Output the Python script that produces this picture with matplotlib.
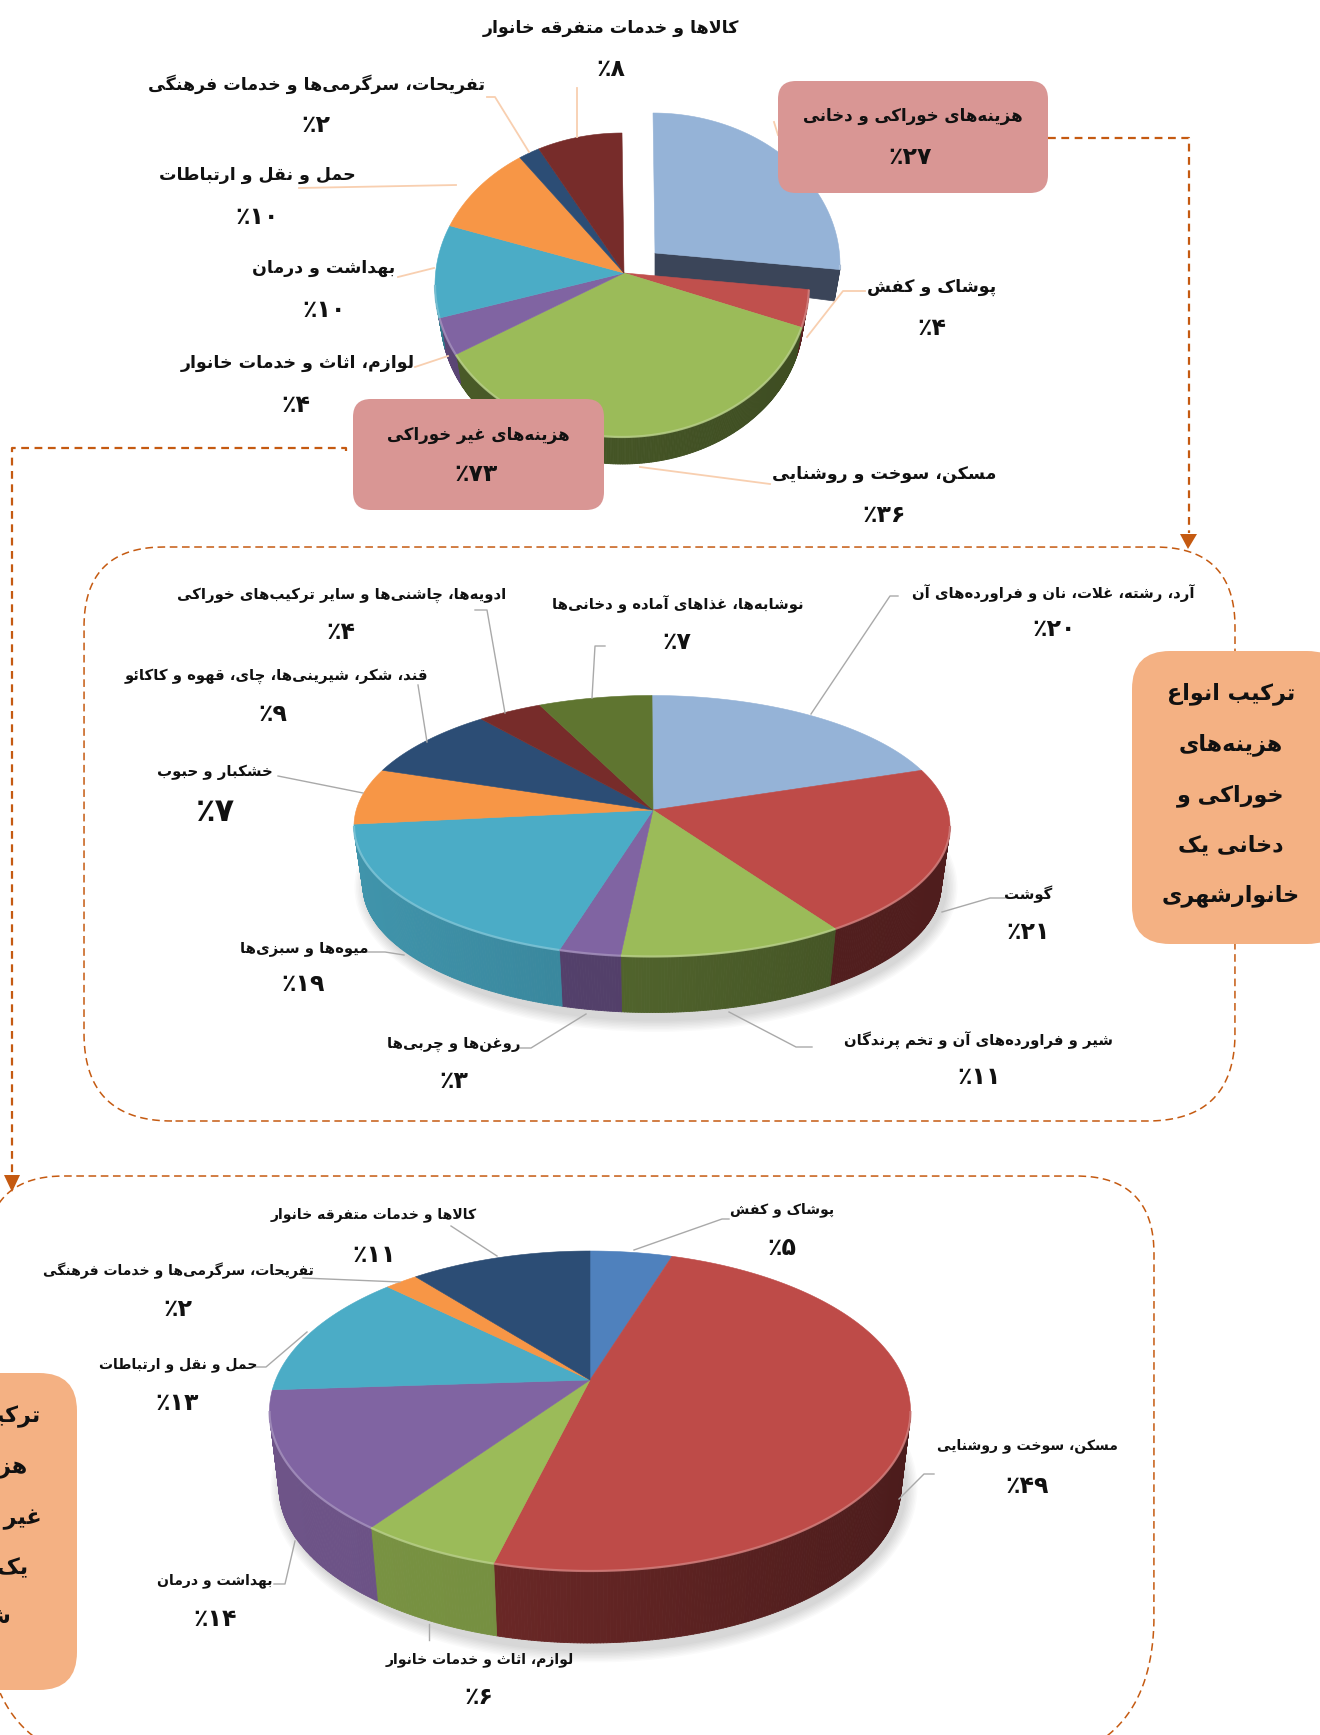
import numpy as np
import matplotlib
matplotlib.use("Agg")
import matplotlib.pyplot as plt
from matplotlib.patches import FancyBboxPatch, Polygon, Ellipse
from matplotlib.collections import PolyCollection

# ---------- data ----------
cats_all = ["هزینه‌های خوراکی و دخانی", "پوشاک و کفش", "مسکن، سوخت و روشنایی", "لوازم، اثاث و خدمات خانوار",
            "بهداشت و درمان", "حمل و نقل و ارتباطات", "تفریحات، سرگرمی‌ها و خدمات فرهنگی", "کالاها و خدمات متفرقه خانوار"]
vals_all = [27, 4, 36, 4, 10, 10, 2, 8]

cats_food = ["آرد، رشته، غلات، نان و فراورده‌های آن", "گوشت", "شیر و فراورده‌های آن و تخم پرندگان", "روغن‌ها و چربی‌ها",
             "میوه‌ها و سبزی‌ها", "خشکبار و حبوب", "قند، شکر، شیرینی‌ها، چای، قهوه و کاکائو",
             "ادویه‌ها، چاشنی‌ها و سایر ترکیب‌های خوراکی", "نوشابه‌ها، غذاهای آماده و دخانی‌ها"]
vals_food = [20, 21, 11, 3, 19, 7, 9, 4, 7]

cats_nonfood = ["پوشاک و کفش", "مسکن، سوخت و روشنایی", "لوازم، اثاث و خدمات خانوار", "بهداشت و درمان",
                "حمل و نقل و ارتباطات", "تفریحات، سرگرمی‌ها و خدمات فرهنگی", "کالاها و خدمات متفرقه خانوار"]
vals_nonfood = [5, 49, 6, 14, 13, 2, 11]

box_food_title = "هزینه‌های خوراکی و دخانی"
box_food_value = 27
box_nonfood_title = "هزینه‌های غیر خوراکی"
box_nonfood_value = 73
side_food_lines = ["ترکیب انواع", "هزینه‌های", "خوراکی و", "دخانی یک", "خانوارشهری"]
side_nonfood_lines = ["ترکیب انواع", "هزینه‌های", "غیر خوراکی", "یک خانوار", "شهری"]

# ---------- Persian shaping (matplotlib does not join or reorder Arabic script) ----------
def _f(i, f=None, a=None, m=None):
    return (chr(i), chr(f) if f else None, chr(a) if a else None, chr(m) if m else None)
def _four(b):
    return _f(b, b + 1, b + 2, b + 3)
def _two(b):
    return _f(b, b + 1)
FORMS = {'ء': _f(0xFE80), 'آ': _two(0xFE81), 'أ': _two(0xFE83), 'ؤ': _two(0xFE85), 'إ': _two(0xFE87),
         'ئ': _four(0xFE89), 'ا': _two(0xFE8D), 'ب': _four(0xFE8F), 'ة': _two(0xFE93), 'ت': _four(0xFE95),
         'ث': _four(0xFE99), 'ج': _four(0xFE9D), 'ح': _four(0xFEA1), 'خ': _four(0xFEA5), 'د': _two(0xFEA9),
         'ذ': _two(0xFEAB), 'ر': _two(0xFEAD), 'ز': _two(0xFEAF), 'س': _four(0xFEB1), 'ش': _four(0xFEB5),
         'ص': _four(0xFEB9), 'ض': _four(0xFEBD), 'ط': _four(0xFEC1), 'ظ': _four(0xFEC5), 'ع': _four(0xFEC9),
         'غ': _four(0xFECD), 'ف': _four(0xFED1), 'ق': _four(0xFED5), 'ک': _four(0xFB8E), 'ل': _four(0xFEDD),
         'م': _four(0xFEE1), 'ن': _four(0xFEE5), 'ه': _four(0xFEE9), 'و': _two(0xFEED), 'ی': _four(0xFBFC),
         'پ': _four(0xFB56), 'چ': _four(0xFB7A), 'ژ': _two(0xFB8A), 'گ': _four(0xFB92)}
def shape(s):
    out = []
    n = len(s)
    i = 0
    def joins_next(c):
        return c in FORMS and FORMS[c][2] is not None
    while i < n:
        c = s[i]
        if c == '\u200c':
            i += 1
            continue
        if c not in FORMS:
            out.append(c)
            i += 1
            continue
        prev_j = i > 0 and joins_next(s[i - 1])
        nxt = s[i + 1] if i + 1 < n else ''
        if c == 'ل' and nxt in ('ا', 'آ'):
            base = 0xFEFB if nxt == 'ا' else 0xFEF5
            out.append(chr(base + 1 if prev_j else base))
            i += 2
            continue
        next_j = nxt in FORMS
        iso, fin, ini, med = FORMS[c]
        if prev_j and next_j and med:
            g = med
        elif prev_j and fin:
            g = fin
        elif next_j and ini:
            g = ini
        else:
            g = iso
        out.append(g)
        i += 1
    return ''.join(reversed(out))

def pct(v):
    d = str(v).translate(str.maketrans('0123456789', '۰۱۲۳۴۵۶۷۸۹'))
    return '٪' + d

# ---------- figure ----------
fig = plt.figure(figsize=(13.2, 17.35), dpi=100, facecolor='white')
ax = fig.add_axes([0, 0, 1, 1])
ax.set_xlim(0, 1320)
ax.set_ylim(1735, 0)
ax.axis('off')
FONT = ['DejaVu Sans']
ORANGE_LINE = '#C55A11'
BASE_SHRINK = 0.97

def mix(a, b, t):
    a, b = np.array(matplotlib.colors.to_rgb(a)), np.array(matplotlib.colors.to_rgb(b))
    return tuple(a + (b - a) * t)

def arc(g, t0, t1, n=None, dx=0, dy=0):
    """Perspective projection of a circle's arc onto the top ellipse (apex sits above the ellipse centre)."""
    n = n or max(2, int(abs(t1 - t0)) + 2)
    t = np.radians(np.linspace(t0, t1, n))
    e = (g['cy'] - g['ay']) / g['ry']
    den = 1 + e * np.cos(t)
    y = (np.cos(t) + e) / den
    x = np.sin(t) * np.sqrt(1 - e * e) / den
    return np.c_[g['cx'] + dx + g['rx'] * x, g['cy'] + dy - g['ry'] * y]

def base_of(g, p, dx=0, dy=0):
    k = BASE_SHRINK
    cx, cy = g['cx'] + dx, g['cy'] + dy
    return np.c_[cx + (p[:, 0] - cx) * k, cy + g['d'] + g['ry'] * (1 - k) + (p[:, 1] - cy) * k]

def draw_wall(g, t0, t1, lit, dark, dx=0, dy=0, z=3):
    e = (g['cy'] - g['ay']) / g['ry']
    tw = np.degrees(np.arccos(-e))
    a, b = max(t0, tw), min(t1, 360 - tw)
    if b <= a:
        return
    pts = arc(g, a, b, n=int(b - a) * 2 + 2, dx=dx, dy=dy)
    low = base_of(g, pts, dx, dy)
    polys, cols = [], []
    for i in range(len(pts) - 1):
        polys.append([pts[i], pts[i + 1], low[i + 1], low[i]])
        tx = np.clip((g['cx'] + g['rx'] - pts[i, 0]) / (2 * g['rx']), 0, 1)
        cols.append(mix(dark, lit, tx))
    ax.add_collection(PolyCollection(polys, facecolors=cols, edgecolors=cols, linewidths=0.6, zorder=z))

def draw_pie(g, vals, tops, lits, darks, skip_first=False):
    total = sum(vals)
    edges = np.concatenate([[0], np.cumsum(vals)]) * 360.0 / total
    e = (g['cy'] - g['ay']) / g['ry']
    tw = np.degrees(np.arccos(-e))
    if g.get('shadow'):
        for k in range(8):
            ax.add_patch(Ellipse((g['cx'] + 4, g['cy'] + g['d'] + 5), 2 * g['rx'] * BASE_SHRINK + 4 + 3 * k, 2 * g['ry'] + 8 + 3 * k,
                                 fc='#000000', ec='none', alpha=0.018, zorder=1))
    ex = g.get('explode', (0, 0))
    for i, v in enumerate(vals):
        t0, t1 = edges[i], edges[i + 1]
        dx, dy = ex if (skip_first and i == 0) else (0, 0)
        z = 2 if (skip_first and i == 0) else 3
        if skip_first and i == 0:
            ap = np.array([g['ax'] + dx, g['ay'] + dy])
            end = arc(g, t1, t1, n=1, dx=dx, dy=dy)[0]
            lowend = base_of(g, end[None, :], dx, dy)[0]
            ax.add_patch(Polygon([ap, end, lowend, ap + [0, g['d'] - 2]], fc=darks[i], ec=darks[i], lw=0.5, zorder=z))
        draw_wall(g, t0, t1, lits[i], darks[i], dx, dy, z)
    for i, v in enumerate(vals):
        t0, t1 = edges[i], edges[i + 1]
        dx, dy = ex if (skip_first and i == 0) else (0, 0)
        z = 2.5 if (skip_first and i == 0) else 4
        poly = np.vstack([[g['ax'] + dx, g['ay'] + dy], arc(g, t0, t1, dx=dx, dy=dy)])
        ax.add_patch(Polygon(poly, closed=True, fc=tops[i], ec=tops[i], lw=0.4, zorder=z))
        a, b = max(t0, tw), min(t1, 360 - tw)
        if b > a:
            r = arc(g, a, b, dx=dx, dy=dy)
            ax.plot(r[:, 0], r[:, 1], color=mix(tops[i], '#FFFFFF', 0.3), lw=1.6, alpha=0.8, zorder=z + 0.1,
                    solid_capstyle='butt')

# ---------- pies ----------
top_all = ['#95B3D7', '#C0504D', '#9BBB59', '#8064A2', '#4BACC6', '#F79646', '#2C4D75', '#772C2A']
lit_all = ['#3B4559', '#7A2E2C', '#4A5B28', '#5B4575', '#35798C', '#B06A30', '#1F3654', '#551F1E']
dark_all = ['#3B4559', '#5A2120', '#3E4D22', '#4F3B63', '#2F6A7C', '#A05F2A', '#1F3654', '#551F1E']
geo_all = dict(cx=622, cy=285, rx=187, ry=152, ax=624, ay=273, d=27, explode=(31, -20))
draw_pie(geo_all, vals_all, top_all, lit_all, dark_all, skip_first=True)

top_food = ['#95B3D7', '#BE4B48', '#9BBB59', '#8064A2', '#4BACC6', '#F79646', '#2C4D75', '#772C2A', '#5F7530']
lit_food = ['#3B4559', '#5C2221', '#5F7535', '#56436F', '#4094AB', '#B06A30', '#1F3654', '#551F1E', '#46572A']
dark_food = ['#3B4559', '#4F1D1D', '#3F4E22', '#4F3B63', '#2E7084', '#A05F2A', '#1F3654', '#551F1E', '#46572A']
geo_food = dict(cx=652, cy=826, rx=298, ry=130.5, ax=653, ay=810, d=56, shadow=True)
draw_pie(geo_food, vals_food, top_food, lit_food, dark_food)

top_nf = ['#4F81BD', '#BE4B48', '#9BBB59', '#8064A2', '#4BACC6', '#F79646', '#2C4D75']
lit_nf = ['#3A5F8C', '#7A2E2C', '#7A9443', '#6E5488', '#35798C', '#B06A30', '#1F3654']
dark_nf = ['#3A5F8C', '#4C1C1C', '#6E873C', '#62497D', '#2F6A7C', '#A05F2A', '#1F3654']
geo_nf = dict(cx=590, cy=1411, rx=320.5, ry=160, ax=590, ay=1380, d=72, shadow=True)
draw_pie(geo_nf, vals_nonfood, top_nf, lit_nf, dark_nf)

# ---------- frames ----------
def rbox(x0, y0, x1, y1, r, z=0.5, **kw):
    p = FancyBboxPatch((x0, y0), x1 - x0, y1 - y0, boxstyle=f"round,pad=0,rounding_size={r}",
                       mutation_aspect=1, zorder=z, **kw)
    ax.add_patch(p)

def bez(a, c, b, n=40):
    t = np.linspace(0, 1, n)[:, None]
    a, c, b = np.array(a, float), np.array(c, float), np.array(b, float)
    return (1 - t) ** 2 * a + 2 * t * (1 - t) * c + t ** 2 * b

def frame(x0, y0, x1, y1, rt, rb, **kw):
    # sampled outline; pieces outside the canvas are masked so only the visible dashes are stroked
    pts = np.vstack([bez((x0 + rb, y1), (x0, y1), (x0, y1 - rb)),
                     bez((x0, y0 + rt), (x0, y0), (x0 + rt, y0)),
                     bez((x1 - rt, y0), (x1, y0), (x1, y0 + rt)),
                     bez((x1, y1 - rb), (x1, y1), (x1 - rb, y1)),
                     [(x0 + rb, y1)]])
    out = (pts[:, 0] < -2) | (pts[:, 1] > 1737)
    pts[out] = np.nan
    ax.plot(pts[:, 0], pts[:, 1], zorder=0.5, **kw)

dash = (0, (5, 3))
frame(84, 547, 1235, 1121, 80, 88, color=ORANGE_LINE, lw=1.1, ls=dash)
frame(-14, 1176, 1154, 1765, 78, 150, color=ORANGE_LINE, lw=1.1, ls=dash)
rbox(1132, 651, 1345, 944, 38, z=6, fc='#F4B183', ec='none')
rbox(-70, 1373, 77, 1690, 38, z=6, fc='#F4B183', ec='none')
rbox(778, 81, 1048, 193, 18, z=6, fc='#D99694', ec='none')
rbox(353, 399, 604, 510, 18, z=6, fc='#D99694', ec='none')

# connectors
dash2 = (0, (3.5, 2.5))
ax.plot([1048, 1189, 1189], [138, 138, 533], color=ORANGE_LINE, lw=1.6, ls=dash2, zorder=2)
ax.add_patch(Polygon([[1180, 534], [1197, 534], [1188, 549]], fc=ORANGE_LINE, ec='none', zorder=2))
ax.plot([346, 346, 12, 12], [451, 448, 448, 1173], color=ORANGE_LINE, lw=1.6, ls=dash2, zorder=2)
ax.add_patch(Polygon([[4, 1175], [20, 1175], [12, 1192]], fc=ORANGE_LINE, ec='none', zorder=2))

# ---------- leaders ----------
PEACH = '#F8CFB0'
GREY = '#A9A9A9'
leaders_all = [[(774, 122), (778, 135)], [(807, 337), (843, 291), (865, 291)], [(640, 467), (770, 484)],
               [(448, 356), (415, 367)], [(434, 268), (398, 277)], [(456, 185), (299, 188)],
               [(529, 152), (495, 97), (487, 97)], [(577, 137), (577, 88)]]
leaders_food = [[(811, 714), (890, 596), (898, 596)], [(942, 912), (990, 898), (1005, 898)], [(729, 1012), (796, 1047), (812, 1047)],
                [(586, 1014), (531, 1048), (519, 1048)], [(404, 955), (385, 952), (365, 952)], [(363, 793), (278, 776)],
                [(427, 742), (418, 685)], [(505, 713), (487, 610), (475, 610)], [(592, 698), (595, 646), (605, 646)]]
leaders_nf = [[(634, 1250), (722, 1219), (729, 1219)], [(899, 1499), (924, 1474), (934, 1474)], [(429, 1624), (429, 1640)],
              [(295, 1541), (285, 1584), (274, 1584)], [(307, 1332), (266, 1367), (255, 1367)], [(400, 1282), (303, 1278)],
              [(497, 1256), (451, 1226)]]
for lines, col in ((leaders_all, PEACH), (leaders_food, GREY), (leaders_nf, GREY)):
    for L in lines:
        xy = np.array(L)
        ax.plot(xy[:, 0], xy[:, 1], color=col, lw=1.3 if col == PEACH else 1.0, zorder=5)

# ---------- labels ----------
def txt(x, y, s, size, z=7, color='#111111'):
    ax.text(x, y, s, fontsize=size, ha='center', va='center', family=FONT, weight='bold', color=color, zorder=z)

pos_all = [None, (932, 287), (884, 474), (298, 363), (324, 268), (257, 175), (316, 84), (611, 28)]
pos_all_v = [None, (932, 328), (884, 515), (296, 405), (324, 310), (257, 217), (316, 125), (611, 69)]
pos_food = [(1053, 593), (1028, 894), (978, 1041), (454, 1044), (304, 948), (215, 772), (276, 676), (342, 595), (678, 604)]
pos_food_v = [(1054, 629), (1028, 932), (979, 1077), (454, 1081), (303, 984), (215, 812), (273, 714), (341, 632), (677, 642)]
pos_nf = [(782, 1210), (1027, 1446), (480, 1660), (215, 1581), (178, 1365), (178, 1271), (374, 1215)]
pos_nf_v = [(782, 1248), (1027, 1486), (479, 1697), (215, 1619), (177, 1403), (178, 1309), (374, 1255)]
size_food_v = [17, 17, 17, 17, 17, 23, 17, 17, 17]
size_all_v = [17] * 8
size_nf_v = [17] * 7
for cats, vals, p, pv, sc, sv in ((cats_all, vals_all, pos_all, pos_all_v, 12.5, size_all_v),
                                  (cats_food, vals_food, pos_food, pos_food_v, 10.7, size_food_v),
                                  (cats_nonfood, vals_nonfood, pos_nf, pos_nf_v, 10.1, size_nf_v)):
    for c, v, a, b, s in zip(cats, vals, p, pv, sv):
        if a is None:
            continue
        txt(a[0], a[1], shape(c), sc)
        txt(b[0], b[1], pct(v), s)

txt(913, 116, shape(box_food_title), 12)
txt(910, 157, pct(box_food_value), 17)
txt(478, 435, shape(box_nonfood_title), 12)
txt(476, 474, pct(box_nonfood_value), 17)

y_lines = [694, 745, 796, 845, 896]
for y, s in zip(y_lines, side_food_lines):
    txt(1231, y, shape(s), 16)
for y, s in zip([1416, 1467, 1518, 1568, 1618], side_nonfood_lines):
    txt(-24, y, shape(s), 16)

fig.savefig('out.png', dpi=100, facecolor='white')
